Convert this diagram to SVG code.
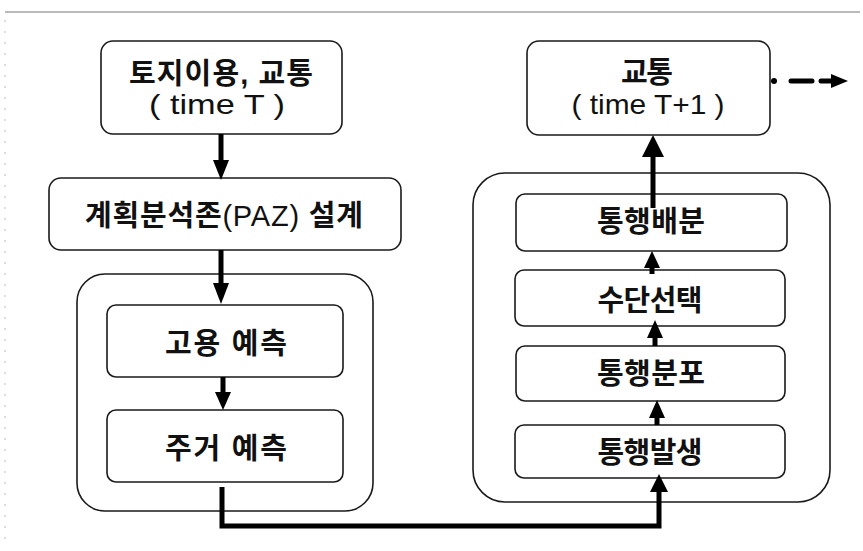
<svg xmlns="http://www.w3.org/2000/svg" width="863" height="551" viewBox="0 0 863 551">
<style>
.box{fill:#fff;stroke:#1a1a1a;stroke-width:1.6}
.ko{font-family:"Liberation Sans","Noto Sans CJK KR",sans-serif;font-weight:700;font-size:29px;fill:#111;text-anchor:middle}
.la{font-family:"Liberation Sans","Noto Sans CJK KR",sans-serif;font-weight:400;font-size:28px;fill:#111;text-anchor:middle}
.sh{stroke:#000;stroke-width:5;fill:none}
.hd{fill:#000}
</style>
<rect width="863" height="551" fill="#fff"/>
<line x1="5" y1="12" x2="860" y2="12" stroke="#777" stroke-width="1"/>
<line x1="5" y1="20" x2="5" y2="540" stroke="#bbb" stroke-width="1" stroke-dasharray="2 9"/>
<g id="left-container"><rect class="box" x="77" y="274" width="296" height="237" rx="28"/></g>
<g id="right-container"><rect class="box" x="473" y="173" width="357" height="329" rx="32"/></g>
<g id="n-landuse">
<rect class="box" x="101" y="41" width="241" height="93" rx="12"/>
<text class="ko" x="221" y="84" font-size="27" textLength="184" lengthAdjust="spacing">토지이용, 교통</text>
<text class="la" x="217" y="114" textLength="136" lengthAdjust="spacingAndGlyphs">( time T )</text>
</g>
<g id="n-paz">
<rect class="box" x="49" y="178" width="352" height="72" rx="12"/>
<text class="ko" x="224" y="226" font-size="30" textLength="278" lengthAdjust="spacing">계획분석존<tspan font-weight="400">(PAZ) </tspan>설계</text>
</g>
<g id="n-employment">
<rect class="box" x="107" y="305" width="236" height="72" rx="9"/>
<text class="ko" x="226" y="354" textLength="122" lengthAdjust="spacing">고용 예측</text>
</g>
<g id="n-housing">
<rect class="box" x="107" y="410" width="236" height="72" rx="9"/>
<text class="ko" x="226" y="459" textLength="122" lengthAdjust="spacing">주거 예측</text>
</g>
<g id="n-traffic">
<rect class="box" x="527" y="41" width="243" height="94" rx="12"/>
<text class="ko" x="647" y="83" font-size="27" textLength="52" lengthAdjust="spacing">교통</text>
<text class="la" x="648" y="114" textLength="153" lengthAdjust="spacingAndGlyphs">( time T+1 )</text>
</g>
<g id="n-assign">
<rect class="box" x="516" y="194" width="271" height="57" rx="9"/>
<text class="ko" x="651" y="232" textLength="108" lengthAdjust="spacing">통행배분</text>
</g>
<g id="n-mode">
<rect class="box" x="515" y="270" width="270" height="56" rx="9"/>
<text class="ko" x="650" y="311" textLength="105" lengthAdjust="spacing">수단선택</text>
</g>
<g id="n-distrib">
<rect class="box" x="516" y="346" width="269" height="55" rx="9"/>
<text class="ko" x="651" y="384" textLength="108" lengthAdjust="spacing">통행분포</text>
</g>
<g id="n-gen">
<rect class="box" x="515" y="425" width="270" height="53" rx="9"/>
<text class="ko" x="650" y="463" textLength="105" lengthAdjust="spacing">통행발생</text>
</g>
<g id="connectors">
<line class="sh" x1="221" y1="134" x2="221" y2="163"/>
<polygon class="hd" points="213,160 229,160 221,180"/>
<line class="sh" x1="221" y1="250" x2="221" y2="286"/>
<polygon class="hd" points="213,283 229,283 221,304"/>
<line class="sh" x1="223" y1="377" x2="223" y2="394"/>
<polygon class="hd" points="215,392 231,392 223,410"/>
<path class="sh" d="M222 487 V526 H659 V490"/>
<polygon class="hd" points="650,492 668,492 659,474"/>
<line class="sh" x1="657" y1="416" x2="657" y2="425"/>
<polygon class="hd" points="649,418 665,418 657,400"/>
<line class="sh" x1="655" y1="336" x2="655" y2="346"/>
<polygon class="hd" points="647,338 663,338 655,320"/>
<line class="sh" x1="652" y1="266" x2="652" y2="274"/>
<polygon class="hd" points="644,268 660,268 652,251"/>
<line class="sh" x1="653" y1="155" x2="653" y2="208"/>
<polygon class="hd" points="642,157 664,157 653,135"/>
<circle cx="774" cy="81" r="3" fill="#000"/>
<line x1="791" y1="81" x2="812" y2="81" stroke="#000" stroke-width="5" stroke-linecap="round"/>
<line x1="821" y1="81" x2="833" y2="81" stroke="#000" stroke-width="5" stroke-linecap="round"/>
<polygon class="hd" points="831,74 848,81 831,88"/>
</g>
</svg>
